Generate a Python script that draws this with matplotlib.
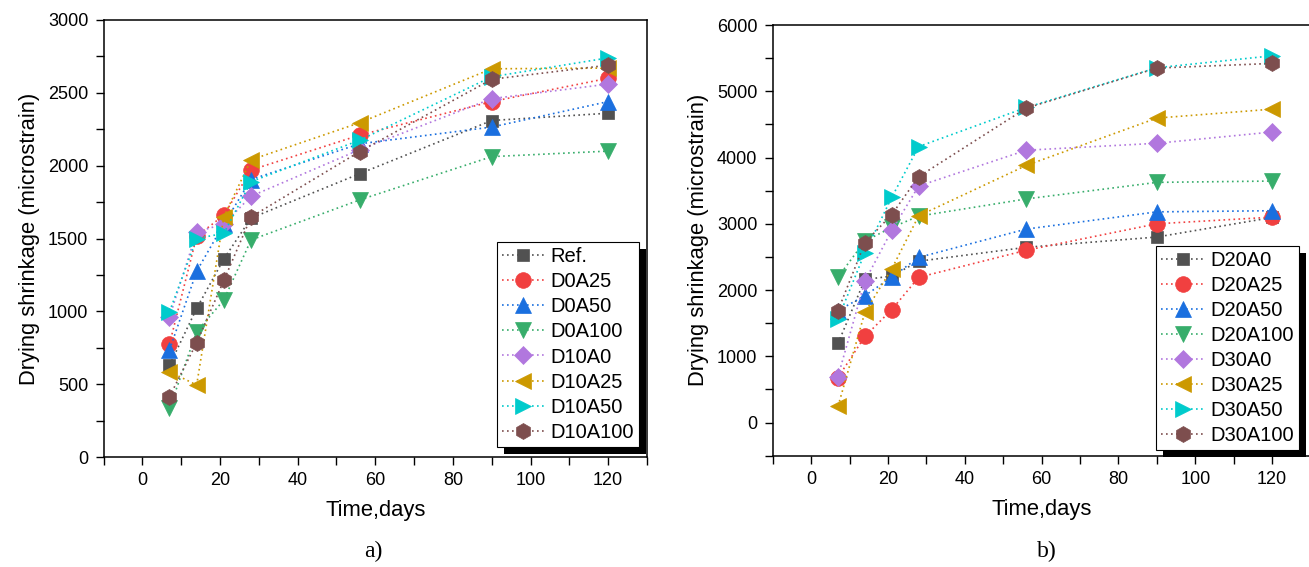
import matplotlib
matplotlib.use("Agg")
import matplotlib.pyplot as plt
from matplotlib.patches import Rectangle

plt.rcParams['font.family'] = ['Liberation Sans', 'DejaVu Sans']

days = [7, 14, 21, 28, 56, 90, 120]

labels_a = ['Ref.', 'D0A25', 'D0A50', 'D0A100', 'D10A0', 'D10A25', 'D10A50', 'D10A100']
ref     = [630, 1020, 1360, 1640, 1945, 2310, 2360]
d0a25   = [775, 1515, 1660, 1970, 2210, 2440, 2600]
d0a50   = [735, 1275, 1600, 1905, 2150, 2265, 2440]
d0a100  = [335, 860, 1078, 1490, 1765, 2062, 2100]
d10a0   = [960, 1545, 1600, 1790, 2110, 2460, 2560]
d10a25  = [586, 494, 1650, 2040, 2295, 2665, 2670]
d10a50  = [998, 1500, 1535, 1890, 2175, 2610, 2740]
d10a100 = [414, 785, 1212, 1648, 2097, 2593, 2690]
series_a = [ref, d0a25, d0a50, d0a100, d10a0, d10a25, d10a50, d10a100]

labels_b = ['D20A0', 'D20A25', 'D20A50', 'D20A100', 'D30A0', 'D30A25', 'D30A50', 'D30A100']
d20a0   = [1195, 2160, 2210, 2435, 2645, 2800, 3095]
d20a25  = [680, 1300, 1705, 2192, 2600, 3000, 3100]
d20a50  = [1690, 1915, 2195, 2493, 2920, 3180, 3197]
d20a100 = [2195, 2740, 2945, 3115, 3375, 3625, 3645]
d30a0   = [695, 2135, 2900, 3570, 4110, 4215, 4385]
d30a25  = [245, 1665, 2320, 3120, 3880, 4595, 4730]
d30a50  = [1565, 2565, 3400, 4165, 4755, 5355, 5535]
d30a100 = [1690, 2715, 3140, 3712, 4745, 5350, 5420]
series_b = [d20a0, d20a25, d20a50, d20a100, d30a0, d30a25, d30a50, d30a100]

colors = ['#515151', '#F14040', '#1A6FDF', '#37AD6B', '#B177DE', '#CC9900', '#00CBCC', '#7D4E4E']
markers = ['s', 'o', '^', 'v', 'D', '<', '>', 'h']
msizes = [9.0, 11.3, 12.0, 12.0, 9.3, 12.0, 12.0, 11.5]

fig = plt.figure(figsize=(13.09, 5.67), dpi=100)
ax1 = fig.add_axes([103.5 / 1309, 1 - 457 / 567, 543.5 / 1309, 437 / 567])
ax2 = fig.add_axes([772.7 / 1309, 1 - 455.7 / 567, 537.8 / 1309, 430.7 / 567])


def style_axes(ax, ylim, ymaj, ymin):
    ax.set_xlim(-10, 130)
    ax.set_ylim(*ylim)
    ax.set_xticks(range(0, 121, 20))
    ax.set_xticks(range(-10, 131, 10), minor=True)
    ax.set_yticks(ymaj)
    ax.set_yticks(ymin, minor=True)
    ax.tick_params(axis='both', which='both', direction='out', length=6, width=1.0,
                   top=False, right=False, labelsize=13, pad=5)
    for s in ax.spines.values():
        s.set_linewidth(1.1)
    ax.set_xlabel('Time,days', fontsize=15.8, labelpad=8)
    ax.set_ylabel('Drying shrinkage (microstrain)', fontsize=15.8, labelpad=6)


def plot_series(ax, series, labels):
    for vals, lab, c, m, ms in zip(series, labels, colors, markers, msizes):
        ax.plot(days, vals, linestyle=(0, (1, 2)), linewidth=1.2, color=c,
                marker=m, markersize=ms, markerfacecolor=c, markeredgecolor=c,
                markeredgewidth=0.5, label=lab)


plot_series(ax1, series_a, labels_a)
plot_series(ax2, series_b, labels_b)
style_axes(ax1, (0, 3000), range(0, 3001, 500), range(0, 3001, 250))
style_axes(ax2, (-500, 6000), range(0, 6001, 1000), range(-500, 6001, 500))

legs = []
for ax, anchor in [(ax1, (0.9853, 0.0236)), (ax2, (0.9786, 0.0132))]:
    leg = ax.legend(loc='lower right', bbox_to_anchor=anchor, borderaxespad=0,
                    fontsize=14.5, frameon=True, fancybox=False, framealpha=1,
                    edgecolor='black', handlelength=2.1, handletextpad=0.33,
                    labelspacing=0.30, borderpad=0.25)
    leg.get_frame().set_linewidth(0.8)
    legs.append((ax, leg))

fig.canvas.draw()
renderer = fig.canvas.get_renderer()
off = 7
for ax, leg in legs:
    bb = leg.get_window_extent(renderer)
    inv = ax.transAxes.inverted()
    (x0, y0) = inv.transform((bb.x0 + off, bb.y0 - off))
    (x1, y1) = inv.transform((bb.x1 + off, bb.y1 - off))
    ax.add_patch(Rectangle((x0, y0), x1 - x0, y1 - y0, transform=ax.transAxes,
                           facecolor='black', edgecolor='none', clip_on=False, zorder=4.9))

fig.text(373 / 1309, 1 - 551 / 567, 'a)', family=['Liberation Serif'], fontsize=17,
         ha='center', va='center')
fig.text(1047 / 1309, 1 - 551 / 567, 'b)', family=['Liberation Serif'], fontsize=17,
         ha='center', va='center')

fig.savefig('out.png', dpi=100)
